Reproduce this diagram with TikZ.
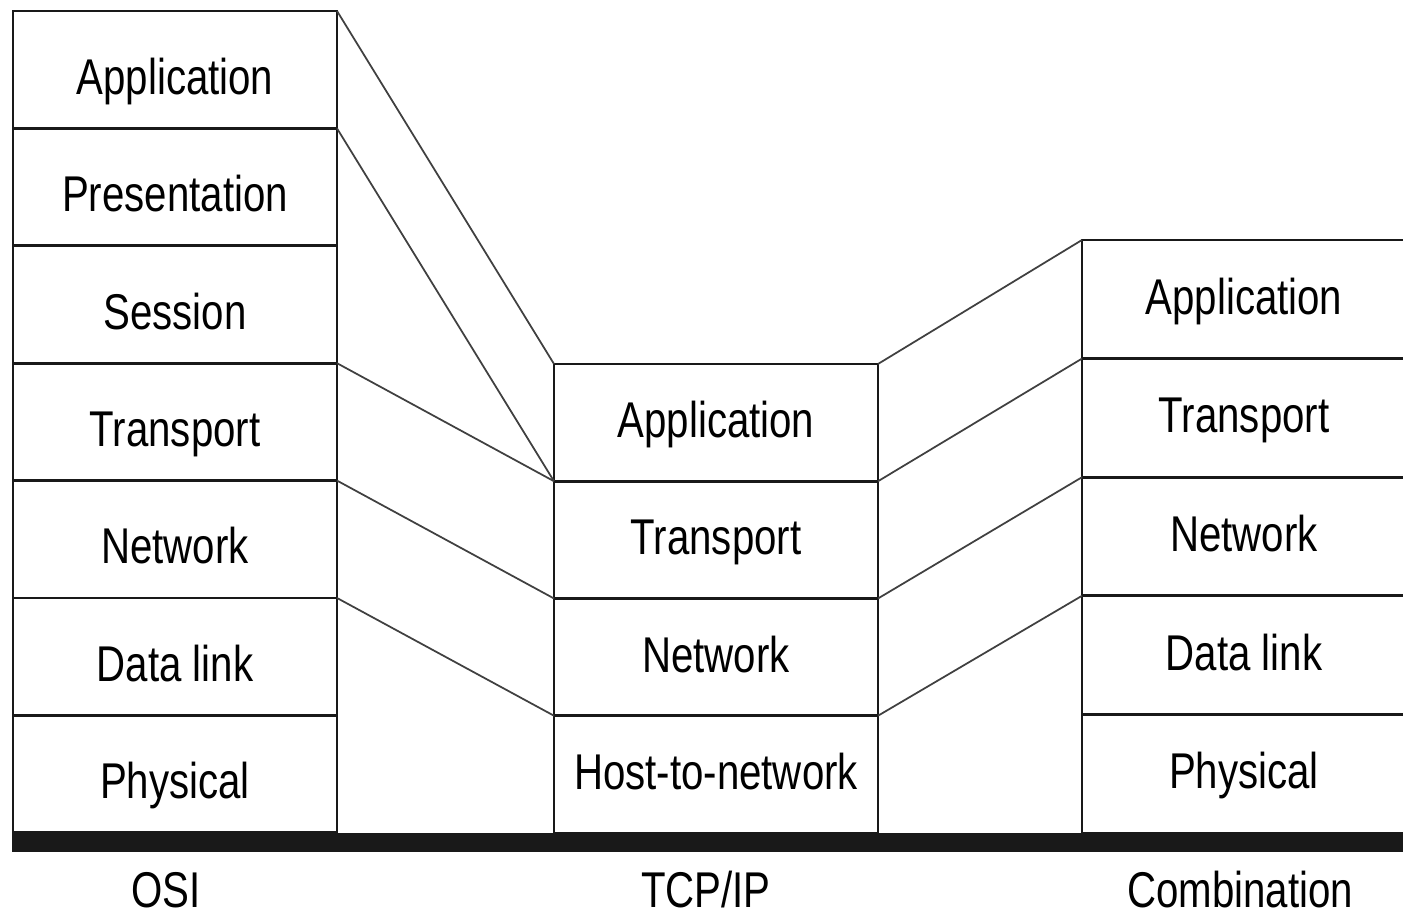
\documentclass[tikz,border=0pt]{standalone}
\usepackage{fontspec}
\setmainfont{Liberation Sans}[FakeStretch=0.8]
\usetikzlibrary{positioning}

\begin{document}
\begin{tikzpicture}[
  line width = 0.8pt,
  node distance = 0pt,
  font = \fontsize{14.3}{17}\selectfont
  ]

  \tikzstyle{layer}=[
  draw = black!90,
  rectangle,
  outer sep = 0pt,
  inner sep = 0pt,
  minimum width = 3.24cm,
  minimum height = 1.174cm,
  text height = 11pt,
  text depth = 2.4pt
  ]
  \tikzstyle{osilayer}=[
  layer,
  text height = 17pt,
  text depth = 3pt
  ]
  \tikzstyle{link}=[
  line width = 0.5pt,
  draw = black!75
  ]

  \clip (0,0) rectangle (14.03,9.16);

  % OSI stack
  \node[osilayer, anchor=north west] (osi1) at (0.13,9.05) {Application};
  \node[osilayer] (osi2) [below=of osi1] {Presentation};
  \node[osilayer] (osi3) [below=of osi2] {Session};
  \node[osilayer] (osi4) [below=of osi3] {Transport};
  \node[osilayer] (osi5) [below=of osi4] {Network};
  \node[osilayer] (osi6) [below=of osi5] {Data link};
  \node[osilayer] (osi7) [below=of osi6] {Physical};

  % TCP/IP stack
  \node[layer, anchor=north west, minimum height=1.1725cm] (tcp1) at (5.54,5.52) {Application};
  \node[layer, minimum height=1.1725cm] (tcp2) [below=of tcp1] {Transport};
  \node[layer, minimum height=1.1725cm] (tcp3) [below=of tcp2] {Network};
  \node[layer, minimum height=1.1725cm] (tcp4) [below=of tcp3] {Host-to-network};

  % combined stack
  \node[layer, anchor=north west, minimum height=1.186cm] (comb1) at (10.82,6.76) {Application};
  \node[layer, minimum height=1.186cm] (comb2) [below=of comb1] {Transport};
  \node[layer, minimum height=1.186cm] (comb3) [below=of comb2] {Network};
  \node[layer, minimum height=1.186cm] (comb4) [below=of comb3] {Data link};
  \node[layer, minimum height=1.186cm] (comb5) [below=of comb4] {Physical};

  % ground bar
  \fill[black!90] (osi7.south west) ++(-0.01,0) rectangle (14.2,0.64);

  \node (osi) at (1.66,0.26) {OSI};
  \node (tcpip) at (7.06,0.26) {TCP/IP};
  \node (comb) at (12.40,0.26) {Combination};

  \draw[link] (osi1.north east) -- (tcp1.north west);
  \draw[link] (osi2.north east) -- (tcp1.south west);
  \draw[link] (osi4.north east) -- (tcp1.south west);
  \draw[link] (osi5.north east) -- (tcp2.south west);
  \draw[link] (osi6.north east) -- (tcp3.south west);

  \draw[link] (tcp1.north east) -- (comb1.north west);
  \draw[link] (tcp1.south east) -- (comb1.south west);
  \draw[link] (tcp2.south east) -- (comb2.south west);
  \draw[link] (tcp3.south east) -- (comb3.south west);

\end{tikzpicture}
\end{document}
